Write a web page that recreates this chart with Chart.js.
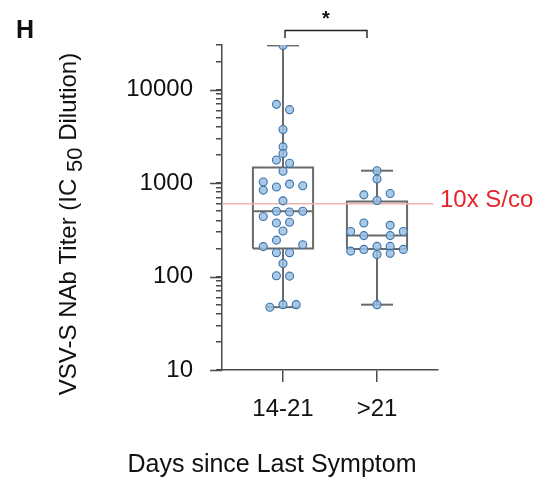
<!DOCTYPE html>
<html><head><meta charset="utf-8">
<script src="https://cdn.jsdelivr.net/npm/chart.js@4.4.1/dist/chart.umd.min.js"></script>
<style>html,body{margin:0;padding:0;background:#fff}canvas{display:block}</style>
</head><body>
<canvas id="c" width="544" height="479"></canvas>
<script>
// ---- data ----
const categories = ['14-21', '>21'];
const group1 = [29700, 6950, 6100, 3740, 2440, 2065, 1765, 1628, 1336, 1026, 975, 935, 906, 841, 645, 500, 491, 500, 438, 374, 381, 307, 245, 209, 219, 180, 180, 138, 102, 101, 50, 50, 47];
const group1Slot = [0, -0.5, 0.5, 0, 0, 0, -0.5, 0.5, 0, -1.5, 0.5, 1.5, -0.5, -1.5, 0, -0.5, 0.5, 1.5, -1.5, -0.5, 0.5, 0, -0.5, -1.5, 1.5, -0.5, 0.5, 0, -0.5, 0.5, 0, 1, -1];
const group2 = [1356, 1104, 748, 774, 652, 374, 353, 303, 303, 274, 274, 187, 195, 210, 210, 195, 172, 177, 50];
const group2Slot = [0, 0, -1, 1, 0, -1, 1, -2, 2, -1, 1, -2, -1, 0, 1, 2, 0, 1, 0];
const mins = [47, 50];
const q1s = [200, 197];
const medians = [500, 274];
const q3s = [1470, 636];
const maxs = [29700, 1356];
const threshold = 600;
const thresholdLabel = '10x S/co';
const yTickValues = [10,20,30,40,50,60,70,80,90,100,200,300,400,500,600,700,800,900,1000,2000,3000,4000,5000,6000,7000,8000,9000,10000,20000,30000];
const yMajor = [10, 100, 1000, 10000];

// ---- styling ----
const AX = '#4a4a4a';
const BOX = '#6a6a6a';
const halfBox = 0.32, halfCap = 0.17, slotStep = 0.14;

function seg(pts, color, width) {
  return { type: 'scatter', data: pts, showLine: true, borderColor: color, borderWidth: width,
           pointRadius: 0, pointHoverRadius: 0, fill: false, order: 2 };
}
const datasets = [];
datasets.push(seg([{x: 0.351, y: threshold}, {x: 2.6, y: threshold}], '#efb3b3', 1.6));
for (let i = 0; i < categories.length; i++) {
  const c = i + 1;
  datasets.push(seg([{x:c-halfBox,y:q1s[i]},{x:c+halfBox,y:q1s[i]},{x:c+halfBox,y:q3s[i]},{x:c-halfBox,y:q3s[i]},{x:c-halfBox,y:q1s[i]}], BOX, 2));
  datasets.push(seg([{x:c-halfBox,y:medians[i]},{x:c+halfBox,y:medians[i]}], BOX, 2));
  datasets.push(seg([{x:c,y:q3s[i]},{x:c,y:maxs[i]}], BOX, 2));
  datasets.push(seg([{x:c,y:q1s[i]},{x:c,y:mins[i]}], BOX, 2));
  datasets.push(seg([{x:c-halfCap,y:maxs[i]},{x:c+halfCap,y:maxs[i]}], BOX, 2));
  datasets.push(seg([{x:c-halfCap,y:mins[i]},{x:c+halfCap,y:mins[i]}], BOX, 2));
}
const groups = [[group1, group1Slot], [group2, group2Slot]];
groups.forEach(([vals, slots], i) => {
  datasets.push({ type: 'scatter', data: vals.map((v, k) => ({x: i + 1 + slots[k] * slotStep, y: v})),
    pointRadius: 4, pointHoverRadius: 4, pointBackgroundColor: 'rgba(155,191,226,0.85)',
    pointBorderColor: '#3a73aa', pointBorderWidth: 1.1, showLine: false, order: 1 });
});

const extras = {
  id: 'extras',
  afterDraw(chart) {
    const ctx = chart.ctx, y = chart.scales.y, x = chart.scales.x;
    const L = chart.chartArea.left;
    ctx.save();
    // longer major ticks
    ctx.strokeStyle = AX; ctx.lineWidth = 1.5;
    yMajor.forEach(v => {
      const py = Math.round(y.getPixelForValue(v)) + 0.5;
      ctx.beginPath(); ctx.moveTo(L - 12, py); ctx.lineTo(L, py); ctx.stroke();
    });
    // threshold label
    ctx.fillStyle = '#e2262b'; ctx.font = '24px "Liberation Sans", Arial, sans-serif';
    ctx.textAlign = 'left'; ctx.textBaseline = 'middle';
    ctx.fillText(thresholdLabel, 440, y.getPixelForValue(threshold) - 3);
    // panel letter
    ctx.fillStyle = '#111'; ctx.font = 'bold 25px "Liberation Sans", Arial, sans-serif';
    ctx.textBaseline = 'alphabetic';
    ctx.fillText('H', 16, 38);
    // significance bracket
    const x1 = x.getPixelForValue(1) + 2, x2 = x.getPixelForValue(2) - 10;
    ctx.strokeStyle = '#222'; ctx.lineWidth = 1.4;
    ctx.beginPath(); ctx.moveTo(x1, 38); ctx.lineTo(x1, 30.5); ctx.lineTo(x2, 30.5); ctx.lineTo(x2, 38); ctx.stroke();
    ctx.font = 'bold 20px "Liberation Sans", Arial, sans-serif'; ctx.textAlign = 'center';
    ctx.fillText('*', (x1 + x2) / 2, 25);
    // y title with subscript
    ctx.translate(76, 224); ctx.rotate(-Math.PI / 2);
    const fMain = '24px "Liberation Sans", Arial, sans-serif', fSub = '22px "Liberation Sans", Arial, sans-serif';
    const p1 = 'VSV-S NAb Titer (IC ', p2 = '50', p3 = ' Dilution)';
    ctx.font = fMain; const w1 = ctx.measureText(p1).width, w3 = ctx.measureText(p3).width;
    ctx.font = fSub; const w2 = ctx.measureText(p2).width;
    let sx = -(w1 + w2 + w3) / 2;
    ctx.textAlign = 'left'; ctx.fillStyle = '#111';
    ctx.font = fMain; ctx.fillText(p1, sx, 0); sx += w1;
    ctx.font = fSub; ctx.fillText(p2, sx, 6); sx += w2;
    ctx.font = fMain; ctx.fillText(p3, sx, 0);
    ctx.restore();
    // x title
    ctx.save();
    ctx.fillStyle = '#111'; ctx.font = '25px "Liberation Sans", Arial, sans-serif';
    ctx.textAlign = 'center'; ctx.textBaseline = 'alphabetic';
    ctx.fillText('Days since Last Symptom', 272, 472);
    ctx.restore();
  }
};

new Chart(document.getElementById('c'), {
  type: 'scatter',
  data: { datasets },
  options: {
    responsive: false, animation: false, devicePixelRatio: 1,
    layout: { padding: { top: 45, right: 106, left: 0, bottom: 0 } },
    plugins: { legend: { display: false }, tooltip: { enabled: false } },
    scales: {
      x: {
        type: 'linear', min: 0.351, max: 2.649,
        afterBuildTicks: s => { s.ticks = categories.map((c, i) => ({ value: i + 1 })); },
        afterFit: s => { s.height = 109; },
        ticks: { autoSkip: false, maxRotation: 0, padding: 13, color: '#111',
                 font: { family: '"Liberation Sans", Arial, sans-serif', size: 24 },
                 callback: v => categories[Math.round(v) - 1] || '' },
        grid: { drawOnChartArea: false, drawTicks: true, tickLength: 12, color: AX, lineWidth: 1.5 },
        border: { display: true, color: AX, width: 1.5 }
      },
      y: {
        type: 'logarithmic', min: 10, max: 30000,
        afterBuildTicks: s => { s.ticks = yTickValues.map(v => ({ value: v })); },
        afterFit: s => { s.width = 222; },
        ticks: { autoSkip: false, padding: 23, color: '#111',
                 font: { family: '"Liberation Sans", Arial, sans-serif', size: 24 },
                 callback: v => yMajor.includes(v) ? String(v) : '' },
        grid: { drawOnChartArea: false, drawTicks: true, tickLength: 6, color: AX, lineWidth: 1.5 },
        border: { display: true, color: AX, width: 1.5 }
      }
    }
  },
  plugins: [extras]
});
</script>
</body></html>
